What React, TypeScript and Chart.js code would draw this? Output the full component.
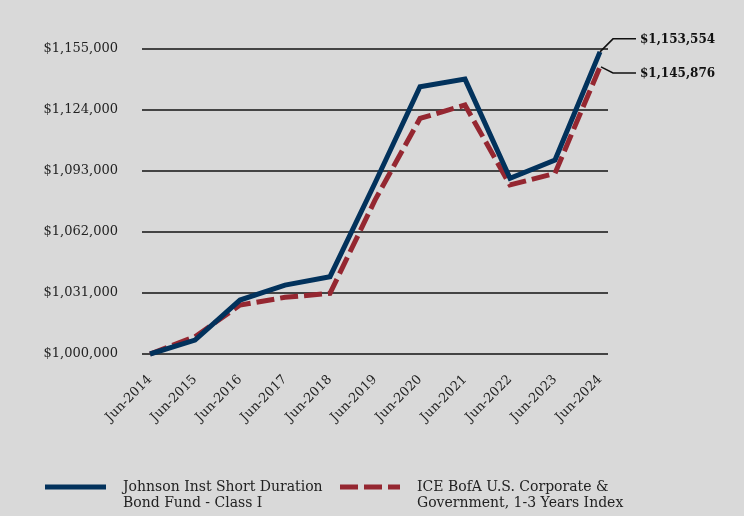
import React, { useEffect, useRef } from "react";
import { Chart, registerables } from "chart.js";

Chart.register(...registerables);

const categories = ["Jun-2014", "Jun-2015", "Jun-2016", "Jun-2017", "Jun-2018", "Jun-2019", "Jun-2020", "Jun-2021", "Jun-2022", "Jun-2023", "Jun-2024"];
const fundValues = [1000000, 1007100, 1027400, 1035000, 1039300, 1086900, 1135800, 1139700, 1089300, 1098600, 1153554];
const indexValues = [1000000, 1008800, 1024900, 1028800, 1030800, 1078200, 1119700, 1126500, 1085900, 1091800, 1145876];
const fundName = ["Johnson Inst Short Duration", "Bond Fund - Class I"];
const indexName = ["ICE BofA U.S. Corporate &", "Government, 1-3 Years Index"];
const endLabels = ["$1,153,554", "$1,145,876"];

const BLUE = "#02325c";
const RED = "#952731";
const FONT = "'DejaVu Serif', Georgia, serif";
const DASH = [18, 6];

const fmt = (v: number) => "$" + v.toLocaleString("en-US");

const overlay = {
  id: "overlay",
  afterDraw(chart: any) {
    const ctx = chart.ctx;
    const xs = chart.scales.x;
    const ys = chart.scales.y;
    const last = categories.length - 1;
    const px = xs.getPixelForValue(last);
    const fy = ys.getPixelForValue(fundValues[last]);
    const iy = ys.getPixelForValue(indexValues[last]);
    ctx.save();
    ctx.strokeStyle = "#111";
    ctx.lineWidth = 1.5;
    ctx.beginPath();
    ctx.moveTo(px, fy);
    ctx.lineTo(px + 13, fy - 13);
    ctx.lineTo(px + 36, fy - 13);
    ctx.stroke();
    ctx.beginPath();
    ctx.moveTo(px + 1, iy);
    ctx.lineTo(px + 13, iy + 6);
    ctx.lineTo(px + 36, iy + 6);
    ctx.stroke();
    ctx.fillStyle = "#111";
    ctx.font = "bold 12px " + FONT;
    ctx.textBaseline = "middle";
    ctx.textAlign = "left";
    ctx.fillText(endLabels[0], px + 40, fy - 12);
    ctx.fillText(endLabels[1], px + 40, iy + 7);

    // legend
    ctx.lineWidth = 5;
    ctx.strokeStyle = BLUE;
    ctx.setLineDash([]);
    ctx.beginPath();
    ctx.moveTo(45, 487);
    ctx.lineTo(106, 487);
    ctx.stroke();
    ctx.strokeStyle = RED;
    ctx.setLineDash(DASH);
    ctx.beginPath();
    ctx.moveTo(340, 487);
    ctx.lineTo(400, 487);
    ctx.stroke();
    ctx.setLineDash([]);
    ctx.font = "14px " + FONT;
    ctx.fillStyle = "#222";
    fundName.forEach((t, i) => ctx.fillText(t, 123, 487 + i * 16));
    indexName.forEach((t, i) => ctx.fillText(t, 417, 487 + i * 16));
    ctx.restore();
  },
};

export default function App() {
  const ref = useRef<HTMLCanvasElement>(null);
  useEffect(() => {
    document.body.style.margin = "0";
    document.body.style.background = "#d9d9d9";
    const chart = new Chart(ref.current!, {
      type: "line",
      data: {
        datasets: [
          {
            label: fundName.join(" "),
            data: fundValues.map((v, i) => ({ x: i, y: v })),
            borderColor: BLUE,
            borderWidth: 5,
            pointRadius: 0,
            tension: 0,
            clip: false as any,
          },
          {
            label: indexName.join(" "),
            data: indexValues.map((v, i) => ({ x: i, y: v })),
            borderColor: RED,
            borderWidth: 5,
            borderDash: DASH,
            pointRadius: 0,
            tension: 0,
            clip: false as any,
          },
        ],
      },
      options: {
        animation: false,
        responsive: false,
        layout: { padding: { top: 49, right: 136, left: 0, bottom: 0 } },
        plugins: { legend: { display: false }, tooltip: { enabled: false } },
        scales: {
          x: {
            type: "linear",
            min: -0.178,
            max: 10.178,
            afterBuildTicks: (s: any) => {
              s.ticks = categories.map((_, i) => ({ value: i }));
            },
            afterFit: (s: any) => {
              s.height = 162;
            },
            grid: { display: false, drawTicks: false },
            border: { display: false },
            ticks: {
              autoSkip: false,
              maxRotation: 45,
              minRotation: 45,
              padding: 18,
              color: "#222",
              font: { family: FONT, size: 13 },
              callback: (v: any) => categories[Math.round(v)] ?? "",
            },
          },
          y: {
            min: 1000000,
            max: 1155000,
            afterFit: (s: any) => {
              s.width = 142;
            },
            grid: { color: "#444", lineWidth: 2, drawTicks: false },
            border: { display: false },
            ticks: {
              stepSize: 31000,
              padding: 24,
              color: "#222",
              font: { family: FONT, size: 13 },
              callback: (v: any) => fmt(Number(v)),
            },
          },
        },
      },
      plugins: [overlay],
    });
    return () => chart.destroy();
  }, []);
  return (
    <div style={{ width: 744, height: 516, background: "#d9d9d9" }}>
      <canvas ref={ref} width={744} height={516} style={{ display: "block" }} />
    </div>
  );
}
